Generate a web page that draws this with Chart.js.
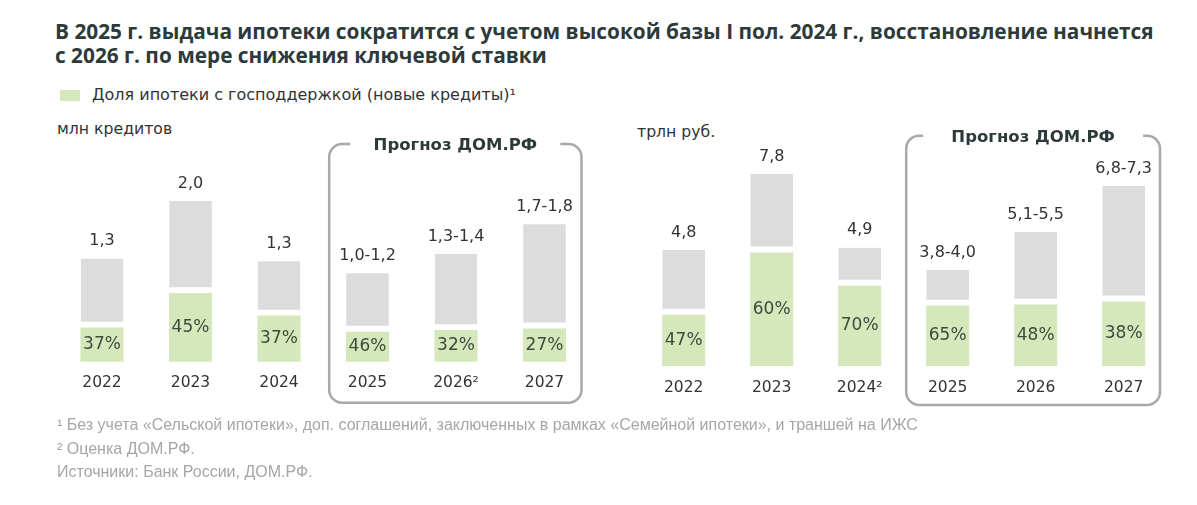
<!DOCTYPE html>
<html>
<head>
<meta charset="utf-8">
<script src="https://cdn.jsdelivr.net/npm/chart.js@4"></script>
<style>
  body { margin: 0; background: #fff; width: 1197px; height: 505px; position: relative; overflow: hidden; font-family: 'DejaVu Sans', sans-serif; }
  canvas { position: absolute; top: 0; }
  .txt { position: absolute; white-space: nowrap; }
  #title { left: 55px; top: 19px; font: bold 20.8px 'Open Sans', sans-serif; line-height: 24px; color: #2d3a3a; }
  #legend { left: 60px; top: 86px; font-size: 16px; line-height: 18px; color: #333; }
  #legend i { position: absolute; left: 0; top: 4px; width: 20px; height: 11px; background: #d5e8bb; }
  #legend span { margin-left: 32px; }
  .unit { font-size: 15.7px; line-height: 18px; color: #333; }
  #notes { left: 57px; top: 413px; font: 16px 'Liberation Sans', sans-serif; line-height: 23.5px; color: #a6a6a6; }
</style>
</head>
<body>
<div id="title" class="txt">В 2025 г. выдача ипотеки сократится с учетом высокой базы I пол. 2024 г., восстановление начнется<br>с 2026 г. по мере снижения ключевой ставки</div>
<div id="legend" class="txt"><i></i><span>Доля ипотеки с господдержкой (новые кредиты)¹</span></div>
<div class="txt unit" style="left:57px; top:120px;">млн кредитов</div>
<div class="txt unit" style="left:637px; top:123px;">трлн руб.</div>
<canvas id="loansChart" width="600" height="505" style="left:0"></canvas>
<canvas id="volumeChart" width="597" height="505" style="left:600px"></canvas>
<div id="notes" class="txt">¹ Без учета «Сельской ипотеки», доп. соглашений, заключенных в рамках «Семейной ипотеки», и траншей на ИЖС<br>² Оценка ДОМ.РФ.<br>Источники: Банк России, ДОМ.РФ.</div>

<script>
// left panel: number of loans, mln
const loansYears = ['2022', '2023', '2024', '2025', '2026²', '2027'];
const loansTotal = [1.28, 2.0, 1.25, 1.10, 1.34, 1.71];
const loansGov = [0.42, 0.85, 0.57, 0.37, 0.39, 0.41];
const loansLabels = ['1,3', '2,0', '1,3', '1,0-1,2', '1,3-1,4', '1,7-1,8'];
const loansShare = ['37%', '45%', '37%', '46%', '32%', '27%'];

// right panel: volume, trn rub
const volumeYears = ['2022', '2023', '2024²', '2025', '2026', '2027'];
const volumeTotal = [4.71, 7.8, 4.80, 3.90, 5.44, 7.31];
const volumeGov = [2.07, 4.60, 3.25, 2.44, 2.48, 2.61];
const volumeLabels = ['4,8', '7,8', '4,9', '3,8-4,0', '5,1-5,5', '6,8-7,3'];
const volumeShare = ['47%', '60%', '70%', '65%', '48%', '38%'];

const GREEN = '#d5e8bb';
const GREY = '#dcdcdc';
Chart.defaults.font.family = "'DejaVu Sans', sans-serif";

// totals above bars, shares inside green part
const barText = {
    id: 'barText',
    afterDatasetsDraw(chart, args, opts) {
        const ctx = chart.ctx;
        const gov = chart.getDatasetMeta(0).data;
        const rest = chart.getDatasetMeta(1).data;
        ctx.save();
        ctx.textAlign = 'center';
        ctx.textBaseline = 'middle';
        rest.forEach(function (bar, i) {
            ctx.font = "16px 'DejaVu Sans'";
            ctx.fillStyle = '#333';
            ctx.fillText(opts.totals[i], bar.x, bar.y - 17.5);
            const g = gov[i];
            ctx.font = "17px 'DejaVu Sans'";
            ctx.fillStyle = '#3d4a3d';
            ctx.fillText(opts.shares[i], g.x, (g.y + g.base) / 2);
        });
        ctx.restore();
    }
};

// rounded frame around the forecast years
const forecastBox = {
    id: 'forecastBox',
    afterDraw(chart, args, o) {
        const ctx = chart.ctx;
        const x = chart.scales.x;
        const l = x.getPixelForValue(o.from) - o.padL;
        const r = x.getPixelForValue(o.to) + o.padR;
        const t = o.top, b = o.bottom, rad = 13;
        const cx = (l + r) / 2;
        ctx.save();
        ctx.strokeStyle = '#a9a9a9';
        ctx.lineWidth = 2.5;
        ctx.beginPath();
        ctx.moveTo(cx - o.gap, t);
        ctx.lineTo(l + rad, t);
        ctx.arcTo(l, t, l, t + rad, rad);
        ctx.lineTo(l, b - rad);
        ctx.arcTo(l, b, l + rad, b, rad);
        ctx.lineTo(r - rad, b);
        ctx.arcTo(r, b, r, b - rad, rad);
        ctx.lineTo(r, t + rad);
        ctx.arcTo(r, t, r - rad, t, rad);
        ctx.lineTo(cx + o.gap, t);
        ctx.stroke();
        ctx.font = "bold 16.5px 'DejaVu Sans'";
        ctx.fillStyle = '#2d3a3a';
        ctx.textAlign = 'center';
        ctx.textBaseline = 'middle';
        ctx.fillText('Прогноз ДОМ.РФ', cx, t + 2);
        ctx.restore();
    }
};

function makeChart(id, years, total, gov, labels, shares, cfg) {
    const rest = total.map(function (v, i) { return +(v - gov[i]).toFixed(3); });
    return new Chart(document.getElementById(id), {
        type: 'bar',
        data: {
            labels: years,
            datasets: [{
                label: 'Доля ипотеки с господдержкой',
                data: gov,
                backgroundColor: GREEN,
                borderWidth: 0,
                barThickness: 42.5
            }, {
                label: 'Прочая ипотека',
                data: rest,
                backgroundColor: GREY,
                borderColor: '#ffffff',
                borderWidth: { top: 0, left: 0, right: 0, bottom: 6.5 },
                borderSkipped: false,
                barThickness: 42.5
            }]
        },
        options: {
            responsive: false,
            animation: false,
            layout: { padding: cfg.padding },
            plugins: {
                legend: { display: false },
                tooltip: { enabled: false },
                barText: { totals: labels, shares: shares },
                forecastBox: cfg.box
            },
            scales: {
                x: {
                    stacked: true,
                    grid: { display: false, drawTicks: false },
                    border: { display: false },
                    ticks: { padding: cfg.tickPad, color: '#333', maxRotation: 0, autoSkip: false, font: { size: 15.5 } },
                    afterFit: function (scale) { scale.height = 40; }
                },
                y: { stacked: true, display: false, min: 0, max: cfg.max }
            }
        },
        plugins: [barText, forecastBox]
    });
}

makeChart('loansChart', loansYears, loansTotal, loansGov, loansLabels, loansShare, {
    max: 2.5,
    padding: { left: 57.75, right: 11.25, top: 160.8, bottom: 103.3 },
    tickPad: 12,
    box: { from: 3, to: 5, padL: 38.3, padR: 37, top: 144, bottom: 402.7, gap: 105 }
});

makeChart('volumeChart', volumeYears, volumeTotal, volumeGov, volumeLabels, volumeShare, {
    max: 9,
    padding: { left: 39.7, right: 29.3, top: 144.4, bottom: 99 },
    tickPad: 12.7,
    box: { from: 3, to: 5, padL: 41.5, padR: 36.3, top: 135.7, bottom: 405, gap: 110 }
});
</script>
</body>
</html>
